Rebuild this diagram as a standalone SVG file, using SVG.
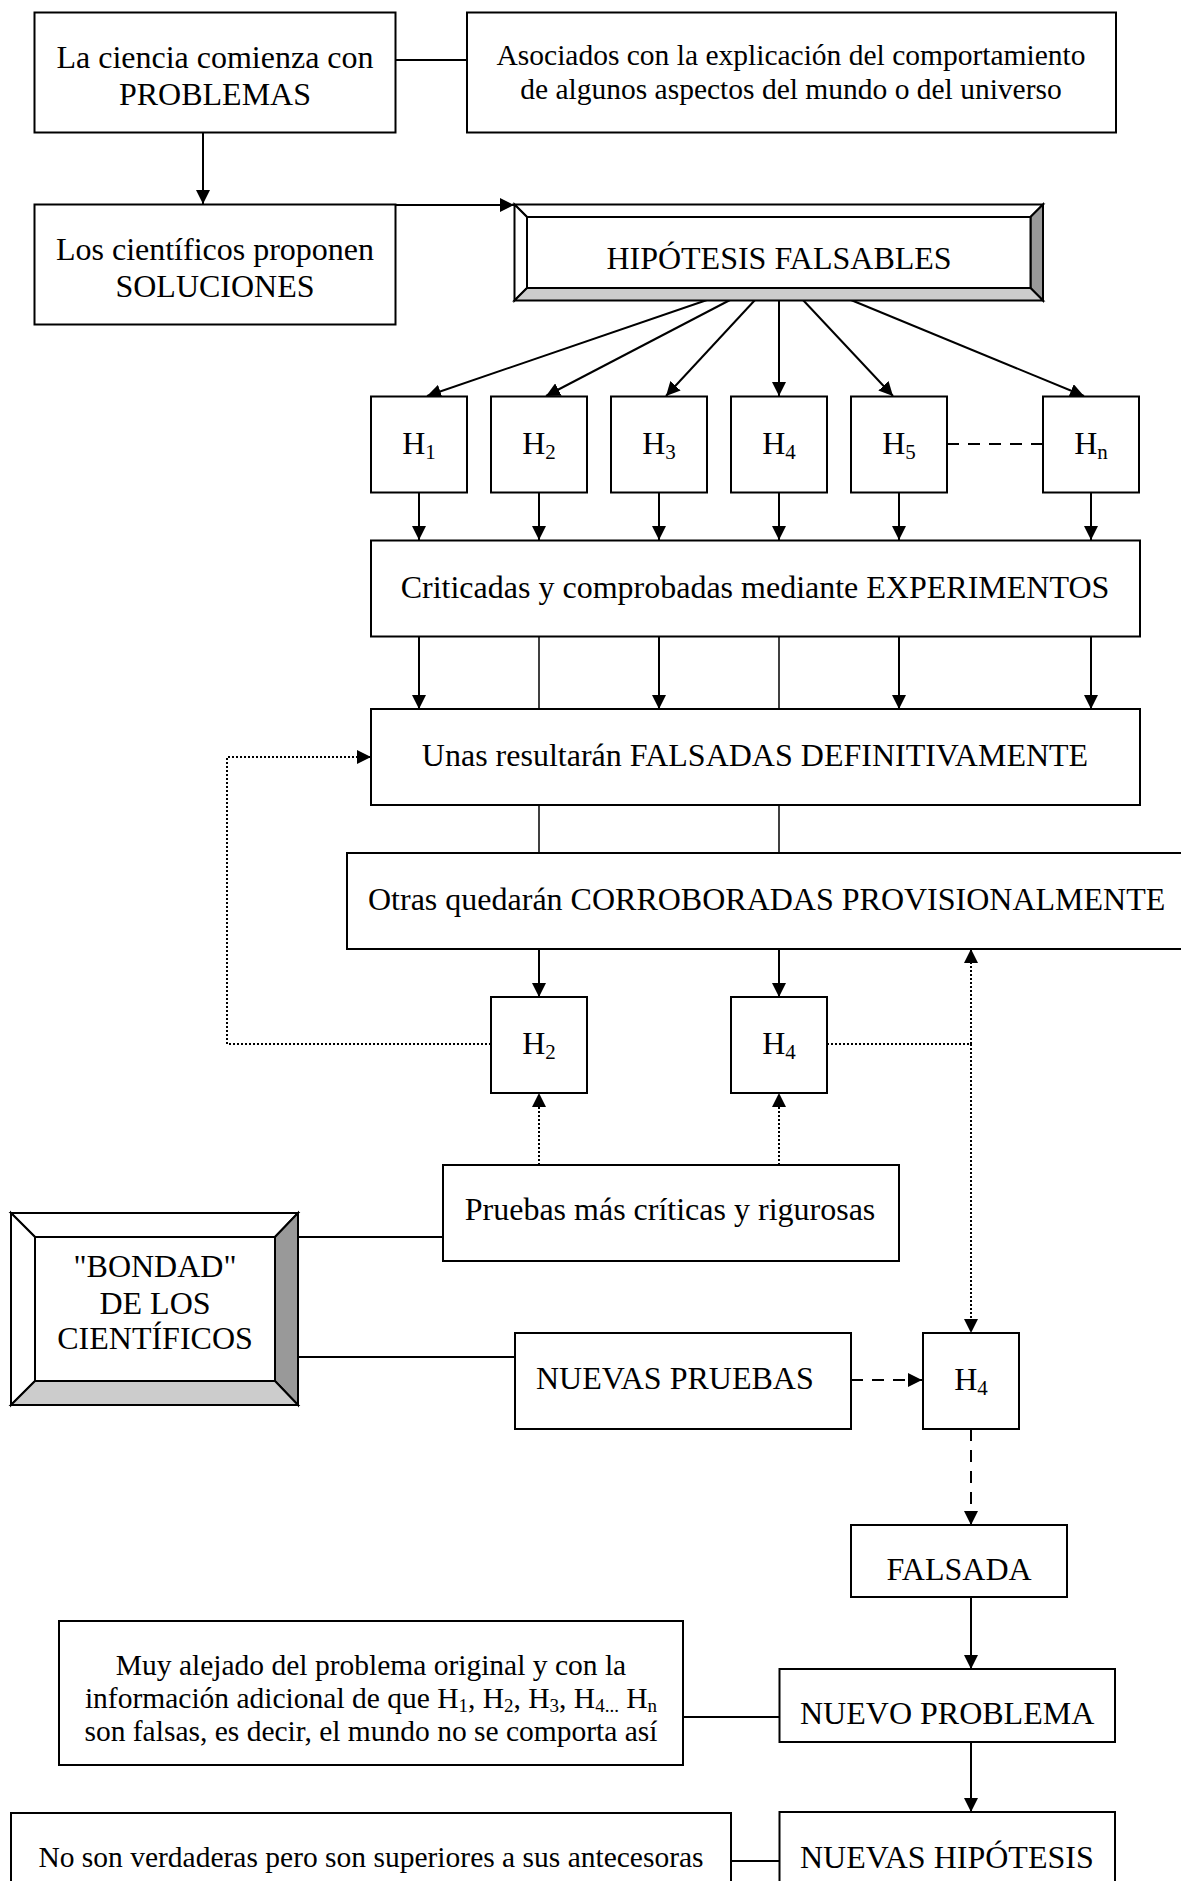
<svg xmlns="http://www.w3.org/2000/svg" width="1181" height="1881" viewBox="0 0 1181 1881">
<defs>
<style>
.t{font-family:"Liberation Serif","Times New Roman",serif;font-size:32px;fill:#000}
.s{font-size:29.5px}
.sub{font-size:21px}
.ssub{font-size:19px}
.box{fill:#fff;stroke:#000;stroke-width:2}
.bev{stroke:#000;stroke-width:2;stroke-linejoin:miter}
.c{fill:none;stroke:#000;stroke-width:2}
.thin{fill:none;stroke:#000;stroke-width:1.5}
.dot{fill:none;stroke:#000;stroke-width:2;stroke-dasharray:2 2}
.dash{fill:none;stroke:#000;stroke-width:2;stroke-dasharray:12 9}
</style>
<marker id="ah" markerUnits="userSpaceOnUse" markerWidth="14" markerHeight="14" viewBox="0 0 14 14" refX="14" refY="7" orient="auto">
<path d="M0,0 L14,7 L0,14 z" fill="#000"/>
</marker>
</defs>
<rect width="1181" height="1881" fill="#fff"/>

<g id="connectors">
<path class="c" d="M395,60 H467"/>
<path class="c" d="M203,133 V204" marker-end="url(#ah)"/>
<path class="c" d="M395,205 H514" marker-end="url(#ah)"/>
<path class="c" d="M707,300 L427,396" marker-end="url(#ah)"/>
<path class="c" d="M730,300 L546,396" marker-end="url(#ah)"/>
<path class="c" d="M755,300 L666,396" marker-end="url(#ah)"/>
<path class="c" d="M779,300 V396" marker-end="url(#ah)"/>
<path class="c" d="M803,300 L893,396" marker-end="url(#ah)"/>
<path class="c" d="M851,300 L1084,396" marker-end="url(#ah)"/>
<path class="dash" d="M947,444 H1043"/>
<path class="c" d="M419,492 V540" marker-end="url(#ah)"/>
<path class="c" d="M539,492 V540" marker-end="url(#ah)"/>
<path class="c" d="M659,492 V540" marker-end="url(#ah)"/>
<path class="c" d="M779,492 V540" marker-end="url(#ah)"/>
<path class="c" d="M899,492 V540" marker-end="url(#ah)"/>
<path class="c" d="M1091,492 V540" marker-end="url(#ah)"/>
<path class="c" d="M419,637 V709" marker-end="url(#ah)"/>
<path class="c" d="M659,637 V709" marker-end="url(#ah)"/>
<path class="c" d="M899,637 V709" marker-end="url(#ah)"/>
<path class="c" d="M1091,637 V709" marker-end="url(#ah)"/>
<path class="thin" d="M539,637 V709"/>
<path class="thin" d="M779,637 V709"/>
<path class="thin" d="M539,805 V853"/>
<path class="thin" d="M779,805 V853"/>
<path class="c" d="M539,949 V997" marker-end="url(#ah)"/>
<path class="c" d="M779,949 V997" marker-end="url(#ah)"/>
<path class="dot" d="M491,1044 H227 V757 H371" marker-end="url(#ah)"/>
<path class="dot" d="M827,1044 H971"/>
<path class="dot" d="M971,1044 V949" marker-end="url(#ah)"/>
<path class="dot" d="M971,1044 V1333" marker-end="url(#ah)"/>
<path class="dot" d="M539,1165 V1093" marker-end="url(#ah)"/>
<path class="dot" d="M779,1165 V1093" marker-end="url(#ah)"/>
<path class="c" d="M298,1237 H443"/>
<path class="c" d="M298,1357 H515"/>
<path class="dash" d="M851,1380 H922" marker-end="url(#ah)"/>
<path class="dash" d="M971,1429 V1525" marker-end="url(#ah)"/>
<path class="c" d="M971,1597 V1669" marker-end="url(#ah)"/>
<path class="c" d="M683,1717 H779"/>
<path class="c" d="M971,1742 V1812" marker-end="url(#ah)"/>
<path class="c" d="M731,1861 H779"/>
</g>

<g id="n-problemas">
<rect class="box" x="34.5" y="12.5" width="361" height="120"/>
<text class="t" text-anchor="middle" x="215" y="68">La ciencia comienza con</text>
<text class="t" text-anchor="middle" x="215" y="105">PROBLEMAS</text>
</g>
<g id="n-asociados">
<rect class="box" x="467" y="12.5" width="649" height="120"/>
<text class="t s" text-anchor="middle" x="791" y="65">Asociados con la explicación del comportamiento</text>
<text class="t s" text-anchor="middle" x="791" y="99">de algunos aspectos del mundo o del universo</text>
</g>
<g id="n-soluciones">
<rect class="box" x="34.5" y="204.5" width="361" height="120"/>
<text class="t" text-anchor="middle" x="215" y="260">Los científicos proponen</text>
<text class="t" text-anchor="middle" x="215" y="297">SOLUCIONES</text>
</g>
<g id="n-hipotesis">
<polygon class="bev" fill="#fff" points="514.5,204.5 1043,204.5 1030.5,217 527,217"/>
<polygon class="bev" fill="#fff" points="514.5,204.5 527,217 527,288 514.5,300.5"/>
<polygon class="bev" fill="#999" points="1043,204.5 1043,300.5 1030.5,288 1030.5,217"/>
<polygon class="bev" fill="#ccc" points="514.5,300.5 527,288 1030.5,288 1043,300.5"/>
<rect class="box" x="527" y="217" width="503.5" height="71"/>
<text class="t" text-anchor="middle" x="779" y="269">HIPÓTESIS FALSABLES</text>
</g>
<g id="n-h1">
<rect class="box" x="371" y="396.5" width="96" height="96"/>
<text class="t" text-anchor="middle" x="419" y="454">H<tspan class="sub" dy="5">1</tspan></text>
</g>
<g id="n-h2">
<rect class="box" x="491" y="396.5" width="96" height="96"/>
<text class="t" text-anchor="middle" x="539" y="454">H<tspan class="sub" dy="5">2</tspan></text>
</g>
<g id="n-h3">
<rect class="box" x="611" y="396.5" width="96" height="96"/>
<text class="t" text-anchor="middle" x="659" y="454">H<tspan class="sub" dy="5">3</tspan></text>
</g>
<g id="n-h4">
<rect class="box" x="731" y="396.5" width="96" height="96"/>
<text class="t" text-anchor="middle" x="779" y="454">H<tspan class="sub" dy="5">4</tspan></text>
</g>
<g id="n-h5">
<rect class="box" x="851" y="396.5" width="96" height="96"/>
<text class="t" text-anchor="middle" x="899" y="454">H<tspan class="sub" dy="5">5</tspan></text>
</g>
<g id="n-hn">
<rect class="box" x="1043" y="396.5" width="96" height="96"/>
<text class="t" text-anchor="middle" x="1091" y="454">H<tspan class="sub" dy="5">n</tspan></text>
</g>
<g id="n-experimentos">
<rect class="box" x="371" y="540.5" width="769" height="96"/>
<text class="t" text-anchor="middle" x="755" y="598">Criticadas y comprobadas mediante EXPERIMENTOS</text>
</g>
<g id="n-falsadas">
<rect class="box" x="371" y="709" width="769" height="96"/>
<text class="t" text-anchor="middle" x="755" y="766">Unas resultarán FALSADAS DEFINITIVAMENTE</text>
</g>
<g id="n-corroboradas">
<rect class="box" x="347" y="853" width="850" height="96"/>
<text class="t" x="368" y="910">Otras quedarán CORROBORADAS PROVISIONALMENTE</text>
</g>
<g id="n-h2b">
<rect class="box" x="491" y="997" width="96" height="96"/>
<text class="t" text-anchor="middle" x="539" y="1054">H<tspan class="sub" dy="5">2</tspan></text>
</g>
<g id="n-h4b">
<rect class="box" x="731" y="997" width="96" height="96"/>
<text class="t" text-anchor="middle" x="779" y="1054">H<tspan class="sub" dy="5">4</tspan></text>
</g>
<g id="n-pruebas">
<rect class="box" x="443" y="1165" width="456" height="96"/>
<text class="t" text-anchor="middle" x="670" y="1220">Pruebas más críticas y rigurosas</text>
</g>
<g id="n-bondad">
<polygon class="bev" fill="#fff" points="11,1213 298,1213 275,1237 35,1237"/>
<polygon class="bev" fill="#fff" points="11,1213 35,1237 35,1381 11,1405"/>
<polygon class="bev" fill="#999" points="298,1213 298,1405 275,1381 275,1237"/>
<polygon class="bev" fill="#ccc" points="11,1405 35,1381 275,1381 298,1405"/>
<rect class="box" x="35" y="1237" width="240" height="144"/>
<text class="t" text-anchor="middle" x="155" y="1277">"BONDAD"</text>
<text class="t" text-anchor="middle" x="155" y="1314">DE LOS</text>
<text class="t" text-anchor="middle" x="155" y="1349">CIENTÍFICOS</text>
</g>
<g id="n-nuevas-pruebas">
<rect class="box" x="515" y="1333" width="336" height="96"/>
<text class="t" x="536" y="1389">NUEVAS PRUEBAS</text>
</g>
<g id="n-h4c">
<rect class="box" x="923" y="1333" width="96" height="96"/>
<text class="t" text-anchor="middle" x="971" y="1390">H<tspan class="sub" dy="5">4</tspan></text>
</g>
<g id="n-falsada">
<rect class="box" x="851" y="1525" width="216" height="72"/>
<text class="t" text-anchor="middle" x="959" y="1580">FALSADA</text>
</g>
<g id="n-muy-alejado">
<rect class="box" x="59" y="1621" width="624" height="144"/>
<text class="t s" text-anchor="middle" x="371" y="1675">Muy alejado del problema original y con la</text>
<text class="t s" text-anchor="middle" x="371" y="1708">información adicional de que H<tspan class="ssub" dy="4">1</tspan><tspan dy="-4">, H</tspan><tspan class="ssub" dy="4">2</tspan><tspan dy="-4">, H</tspan><tspan class="ssub" dy="4">3</tspan><tspan dy="-4">, H</tspan><tspan class="ssub" dy="4">4...</tspan><tspan dy="-4"> H</tspan><tspan class="ssub" dy="4">n</tspan></text>
<text class="t s" text-anchor="middle" x="371" y="1741">son falsas, es decir, el mundo no se comporta así</text>
</g>
<g id="n-nuevo-problema">
<rect class="box" x="779.5" y="1669" width="335.5" height="73"/>
<text class="t" x="800" y="1724">NUEVO PROBLEMA</text>
</g>
<g id="n-no-son">
<rect class="box" x="11" y="1813" width="720" height="96"/>
<text class="t s" text-anchor="middle" x="371" y="1867">No son verdaderas pero son superiores a sus antecesoras</text>
</g>
<g id="n-nuevas-hipotesis">
<rect class="box" x="779.5" y="1812" width="335.5" height="96"/>
<text class="t" x="800" y="1868">NUEVAS HIPÓTESIS</text>
</g>
</svg>
